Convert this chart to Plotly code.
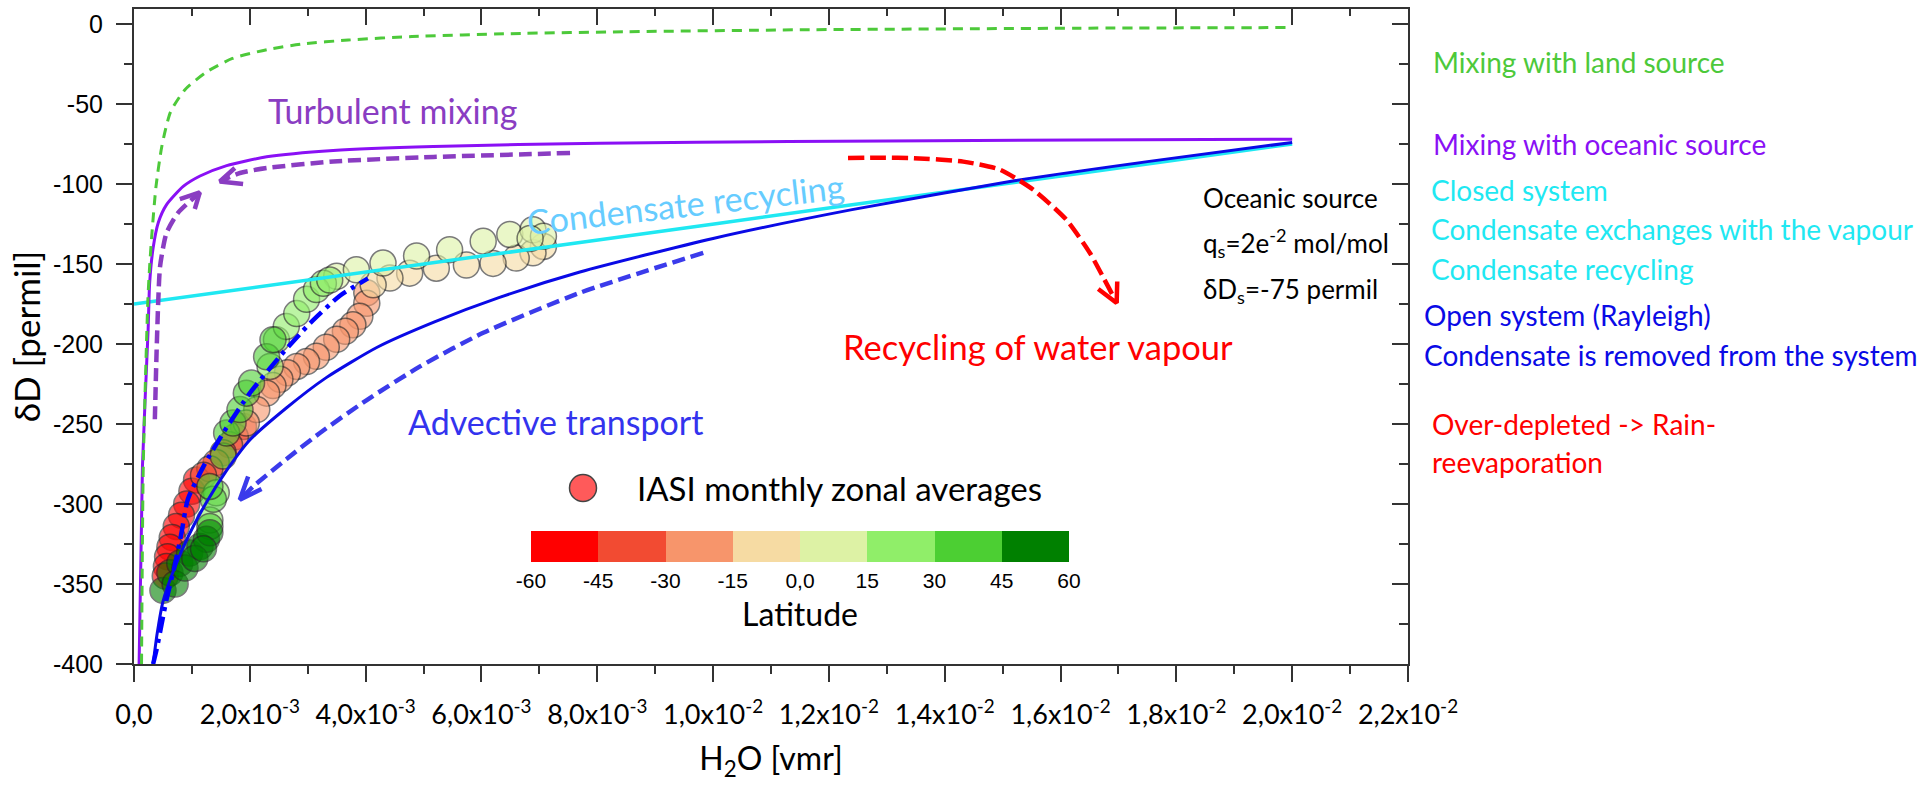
import plotly.graph_objects as go

# ---------------- axes ----------------
X_RANGE = [0, 0.022]
Y_RANGE = [-400, 9.4]
x_tickvals = [0, 0.002, 0.004, 0.006, 0.008, 0.010, 0.012, 0.014, 0.016, 0.018, 0.020, 0.022]
x_ticktext = ["0,0", "2,0x10<sup>-3</sup>", "4,0x10<sup>-3</sup>", "6,0x10<sup>-3</sup>",
              "8,0x10<sup>-3</sup>", "1,0x10<sup>-2</sup>", "1,2x10<sup>-2</sup>",
              "1,4x10<sup>-2</sup>", "1,6x10<sup>-2</sup>", "1,8x10<sup>-2</sup>",
              "2,0x10<sup>-2</sup>", "2,2x10<sup>-2</sup>"]
x_minor = [0.001, 0.003, 0.005, 0.007, 0.009, 0.011, 0.013, 0.015, 0.017, 0.019, 0.021]
y_tickvals = [0, -50, -100, -150, -200, -250, -300, -350, -400]
y_ticktext = ["0", "-50", "-100", "-150", "-200", "-250", "-300", "-350", "-400"]
y_minor = [-25, -75, -125, -175, -225, -275, -325, -375]

# ---------------- model curves ----------------
land_x = [0.00013, 0.00016, 0.00024, 0.00027, 0.00031, 0.00038, 0.00048, 0.00063, 0.00088, 0.00125,
          0.0017, 0.0023, 0.0029, 0.0037, 0.0048, 0.0065, 0.0085, 0.0115, 0.0163, 0.020]
land_y = [-400, -276, -172, -151.5, -130.6, -101.5, -76.5, -55, -41, -30,
          -21.5, -16, -12.5, -10, -7.8, -6, -4.8, -3.6, -2.6, -2.2]

ocean_x = [0.000088, 0.000146, 0.000244, 0.00027, 0.00033, 0.00042, 0.00056, 0.00085, 0.00114,
           0.0016, 0.00229, 0.00344, 0.00517, 0.00805, 0.0113, 0.0163, 0.020]
ocean_y = [-400, -276.5, -191, -162, -140, -124, -113, -101.5, -95,
           -88.5, -83, -79, -76.5, -74.5, -73.4, -72.5, -72]

closed_x = [0.0, 0.0077, 0.0124, 0.020]
closed_y = [-175, -136.5, -113, -75]

rayleigh_x = [0.00033, 0.0004, 0.0005, 0.0007, 0.00094, 0.00125, 0.0016, 0.002, 0.00263, 0.00332,
              0.0042, 0.0052, 0.0063, 0.0077, 0.010, 0.0124, 0.0152, 0.0175, 0.020]
rayleigh_y = [-400, -381, -361, -340, -320, -299, -279, -260, -240, -221,
              -202, -186, -171, -155, -134, -116, -98, -86, -74]

fit_x = [0.00033, 0.00039, 0.00056, 0.0007, 0.00082, 0.00093, 0.0012, 0.00154, 0.002,
         0.00252, 0.00304, 0.00355, 0.00404]
fit_y = [-400, -391, -360, -339, -318, -297, -276.5, -255.6, -230.7,
         -207.7, -187, -170, -159]

# ---------------- arrows (bodies and heads) ----------------
adv_x = [0.00983, 0.0077, 0.00603, 0.00494, 0.00402, 0.00321, 0.00263, 0.00206, 0.00183]
adv_y = [-143, -168, -193, -214, -235, -255.6, -272, -289, -297.3]
adv_head_x = [0.002202, 0.001827, 0.001971]
adv_head_y = [-290.6, -297.3, -282.75]

turb1_x = [0.00036, 0.00039, 0.00042, 0.00045, 0.00056, 0.00076, 0.00114]
turb1_y = [-247, -205, -172, -151.5, -130.7, -118, -105.3]
turb1_head_x = [0.000791, 0.001136, 0.001050]
turb1_head_y = [-109.4, -105.25, -115.6]

turb2_x = [0.00753, 0.00517, 0.00344, 0.00229, 0.00183, 0.00148]
turb2_y = [-80.6, -83.1, -85.9, -90, -93.1, -98.4]
turb2_head_x = [0.001741, 0.001482, 0.001884]
turb2_head_y = [-90.0, -98.4, -100.0]

recyc_x = [0.01233, 0.0129, 0.01346, 0.01432, 0.01495, 0.01553, 0.0161, 0.01651, 0.01682, 0.01697]
recyc_y = [-83.8, -83.5, -83.8, -86, -91, -103.6, -122.3, -143.3, -164, -174.4]
recyc_head_x = [0.016651, 0.016969, 0.016979]
recyc_head_y = [-165.6, -174.4, -160.9]

# ---------------- IASI monthly zonal averages ----------------
lat_m60_x = [0.00108, 0.0010, 0.00091, 0.00082, 0.00073, 0.00066, 0.00062, 0.00058, 0.00056, 0.00054]
lat_m60_y = [-285, -292, -300, -307, -314, -321, -327, -333, -339, -345]
lat_m45_x = [0.00189, 0.00175, 0.00165, 0.00154, 0.00142, 0.00131, 0.0012]
lat_m45_y = [-251.5, -258, -263, -268, -274, -278, -282]
lat_m30_x = [0.00402, 0.00402, 0.0039, 0.00378, 0.00365, 0.0035, 0.00332, 0.00315, 0.00298,
             0.00281, 0.00265, 0.00252, 0.0024, 0.00229, 0.00212, 0.00194]
lat_m30_y = [-168, -174.5, -182.7, -188, -192, -197, -202, -207.7, -211,
             -214, -218, -222, -226, -230.7, -241, -249.4]
lat_m15_x = [0.00707, 0.00689, 0.0066, 0.0062, 0.00574, 0.00522, 0.00476, 0.00442, 0.00413]
lat_m15_y = [-139, -143, -146.3, -149.6, -150.6, -152.6, -155.7, -158.8, -163]
lat_p00_x = [0.0035, 0.00384, 0.0043, 0.00488, 0.00545, 0.00603, 0.00649, 0.00689, 0.00707, 0.00684]
lat_p00_y = [-157.7, -153.6, -149.4, -145, -141, -135.7, -131.5, -128.6, -132.6, -134]
lat_p15_x = [0.00131, 0.00142, 0.00235, 0.00246, 0.00263, 0.00281, 0.00298, 0.00315, 0.00327, 0.00338]
lat_p15_y = [-310, -293, -214, -197.3, -189, -181, -172, -166, -162, -160]
lat_p30_x = [0.00131, 0.00137, 0.00131, 0.00154, 0.0016, 0.00171, 0.00183, 0.00194, 0.00203, 0.00229, 0.0024]
lat_p30_y = [-314, -297, -289, -270, -255.6, -249.4, -241, -230.7, -224.4, -208, -197.3]
lat_p45_x = [0.0005, 0.00062, 0.00079, 0.00096, 0.00114, 0.00125, 0.00131, 0.00071, 0.00088, 0.00105, 0.0012]
lat_p45_y = [-354, -343, -337, -330.6, -326.5, -322, -318, -350, -340, -334, -328]

lat_groups = [(-52.5, lat_m60_x, lat_m60_y), (-37.5, lat_m45_x, lat_m45_y),
              (-22.5, lat_m30_x, lat_m30_y), (-7.5, lat_m15_x, lat_m15_y),
              (7.5, lat_p00_x, lat_p00_y), (22.5, lat_p15_x, lat_p15_y),
              (37.5, lat_p30_x, lat_p30_y), (52.5, lat_p45_x, lat_p45_y)]

lat_colors = ["#FF0000", "#F24B32", "#F7956B", "#F6DBA3", "#DDF2A5", "#90EE69", "#4CCF33", "#008000"]
cb_tickvals = [-60, -45, -30, -15, 0, 15, 30, 45, 60]
cb_ticktext = ["-60", "-45", "-30", "-15", "0,0", "15", "30", "45", "60"]

# ---------------- geometry helpers ----------------
W, H = 1920, 789
ML, MR, MT, MB = 134, 512, 9, 125
PW = W - ML - MR
PH = H - MT - MB


def px(x):
    return (x - ML) / PW


def py(y):
    return (H - MB - y) / PH


TXT = "Lato, Carlito, Calibri, sans-serif"
NUM = "Liberation Sans, Arial, sans-serif"
AXC = "#333333"

scat_x, scat_y, scat_c = [], [], []
for lat, xs, ys in lat_groups:
    scat_x += xs
    scat_y += ys
    scat_c += [lat] * len(xs)

cscale = []
n = len(lat_colors)
for i, c in enumerate(lat_colors):
    cscale.append([i / n, c])
    cscale.append([(i + 1) / n, c])

fig = go.Figure()

fig.add_trace(go.Scatter(
    x=scat_x, y=scat_y, mode="markers", showlegend=False, hoverinfo="skip",
    marker=dict(size=26, color=scat_c, colorscale=cscale, cmin=-60, cmax=60, opacity=0.6,
                line=dict(color="#222222", width=1.5), showscale=True,
                colorbar=dict(orientation="h", x=px(800), xanchor="center", y=py(530.7), yanchor="top",
                              len=538, lenmode="pixels", thickness=31, thicknessmode="pixels",
                              outlinewidth=0, ticks="", tickvals=cb_tickvals, ticktext=cb_ticktext,
                              tickfont=dict(family=NUM, size=21, color="black"), xpad=0, ypad=0,
                              title=dict(text="Latitude", side="bottom",
                                         font=dict(family=TXT, size=32, color="black")))),
))


def line(x, y, color, width, dash="solid", smooth=0.6):
    fig.add_trace(go.Scatter(x=x, y=y, mode="lines", showlegend=False, hoverinfo="skip",
                             line=dict(color=color, width=width, dash=dash, shape="spline",
                                       smoothing=smooth)))


line(closed_x, closed_y, "#1FE8F2", 3.5)
line(rayleigh_x, rayleigh_y, "#0A0AE6", 3)
line(ocean_x, ocean_y, "#8A10F5", 3)
line(land_x, land_y, "#4DC93A", 3, "10px,7px")
line(fit_x, fit_y, "#0000FF", 4.5, "16px,6px,4px,6px")

PURP = "#8A3DC2"
BLUE_D = "#3B3BEB"
line(adv_x, adv_y, BLUE_D, 4.5, "13px,6px")
line(adv_head_x, adv_head_y, BLUE_D, 4.5, smooth=0)
line(turb1_x, turb1_y, PURP, 4.5, "13px,6px")
line(turb1_head_x, turb1_head_y, PURP, 4.5, smooth=0)
line(turb2_x, turb2_y, PURP, 4.5, "13px,6px")
line(turb2_head_x, turb2_head_y, PURP, 4.5, smooth=0)
line(recyc_x, recyc_y, "#FF0000", 4.5, "16px,6px")
line(recyc_head_x, recyc_head_y, "#FF0000", 4.5, smooth=0)

# overlay axes for inward ticks on top/right
fig.add_trace(go.Scatter(x=[], y=[], xaxis="x2", yaxis="y2", showlegend=False, hoverinfo="skip"))

ann = []


def text(t, x, y, color, size, xanchor="center", angle=0):
    ann.append(dict(text=t, x=px(x), y=py(y), xref="paper", yref="paper", showarrow=False,
                    xanchor=xanchor, yanchor="middle", textangle=angle,
                    font=dict(family=TXT, size=size, color=color)))


text("Turbulent mixing", 392, 110, PURP, 34)
text("Condensate recycling", 685, 203, "#66CCFF", 34, angle=-6.5)
text("Advective transport", 555, 422, "#3333EE", 34)
text("Recycling of water vapour", 1038, 346, "#FF0000", 34.5)
text("Oceanic source", 1201, 198, "black", 26, "left")
text("q<sub>s</sub>=2e<sup>-2</sup> mol/mol", 1201, 243, "black", 26, "left")
text("δD<sub>s</sub>=-75 permil", 1201, 290, "black", 26, "left")
text("IASI monthly zonal averages", 635, 488, "black", 33, "left")

CY = "#1FE8F2"
text("Mixing with land source", 1431, 62, "#4DC93A", 28, "left")
text("Mixing with oceanic source", 1431, 144, "#8A10F5", 28, "left")
text("Closed system", 1429, 190, CY, 28, "left")
text("Condensate exchanges with the vapour", 1429, 229, CY, 28, "left")
text("Condensate recycling", 1429, 269, CY, 28, "left")
text("Open system (Rayleigh)", 1422, 315, "#0A0AE6", 28, "left")
text("Condensate is removed from the system", 1422, 355, "#0A0AE6", 28, "left")
text("Over-depleted -> Rain-", 1430, 424, "#FF0000", 28, "left")
text("reevaporation", 1430, 462, "#FF0000", 28, "left")

shapes = [dict(type="circle", xref="paper", yref="paper", xsizemode="pixel", ysizemode="pixel",
               xanchor=px(583), yanchor=py(488), x0=-13.5, x1=13.5, y0=-13.5, y1=13.5,
               fillcolor="#FF5A5A", line=dict(color="#444444", width=1.5))]

axis_common = dict(showline=True, linecolor=AXC, linewidth=2, showgrid=False, zeroline=False,
                   tickcolor=AXC, tickwidth=2)

fig.update_layout(
    width=W, height=H, margin=dict(l=ML, r=MR, t=MT, b=MB, autoexpand=False),
    paper_bgcolor="white", plot_bgcolor="white", hovermode=False,
    annotations=ann, shapes=shapes,
    xaxis=dict(range=X_RANGE, tickmode="array", tickvals=x_tickvals, ticktext=x_ticktext,
               ticks="outside", ticklen=16, ticklabelstandoff=10,
               tickfont=dict(family=TXT, size=27, color="black"),
               minor=dict(tickmode="array", tickvals=x_minor, ticks="outside", ticklen=8,
                          tickwidth=2, tickcolor=AXC),
               title=dict(text="H<sub>2</sub>O [vmr]", standoff=18,
                          font=dict(family=TXT, size=32, color="black")),
               **axis_common),
    yaxis=dict(range=Y_RANGE, tickmode="array", tickvals=y_tickvals, ticktext=y_ticktext,
               ticks="outside", ticklen=16, ticklabelstandoff=8,
               tickfont=dict(family=NUM, size=25, color="black"),
               minor=dict(tickmode="array", tickvals=y_minor, ticks="outside", ticklen=8,
                          tickwidth=2, tickcolor=AXC),
               title=dict(text="δD [permil]", standoff=2,
                          font=dict(family=TXT, size=35, color="black")),
               **axis_common),
    xaxis2=dict(range=X_RANGE, overlaying="x", side="top", anchor="y", tickmode="array",
                tickvals=x_tickvals, ticks="inside", ticklen=16, showticklabels=False,
                minor=dict(tickmode="array", tickvals=x_minor, ticks="inside", ticklen=7,
                           tickwidth=2, tickcolor=AXC),
                **axis_common),
    yaxis2=dict(range=Y_RANGE, overlaying="y", side="right", anchor="x", tickmode="array",
                tickvals=y_tickvals, ticks="inside", ticklen=16, showticklabels=False,
                minor=dict(tickmode="array", tickvals=y_minor, ticks="inside", ticklen=9,
                           tickwidth=2, tickcolor=AXC),
                **axis_common),
)

fig.write_html("out.html", config={"displayModeBar": False},
               post_script="document.body.style.margin='0';document.body.style.overflow='hidden';")
